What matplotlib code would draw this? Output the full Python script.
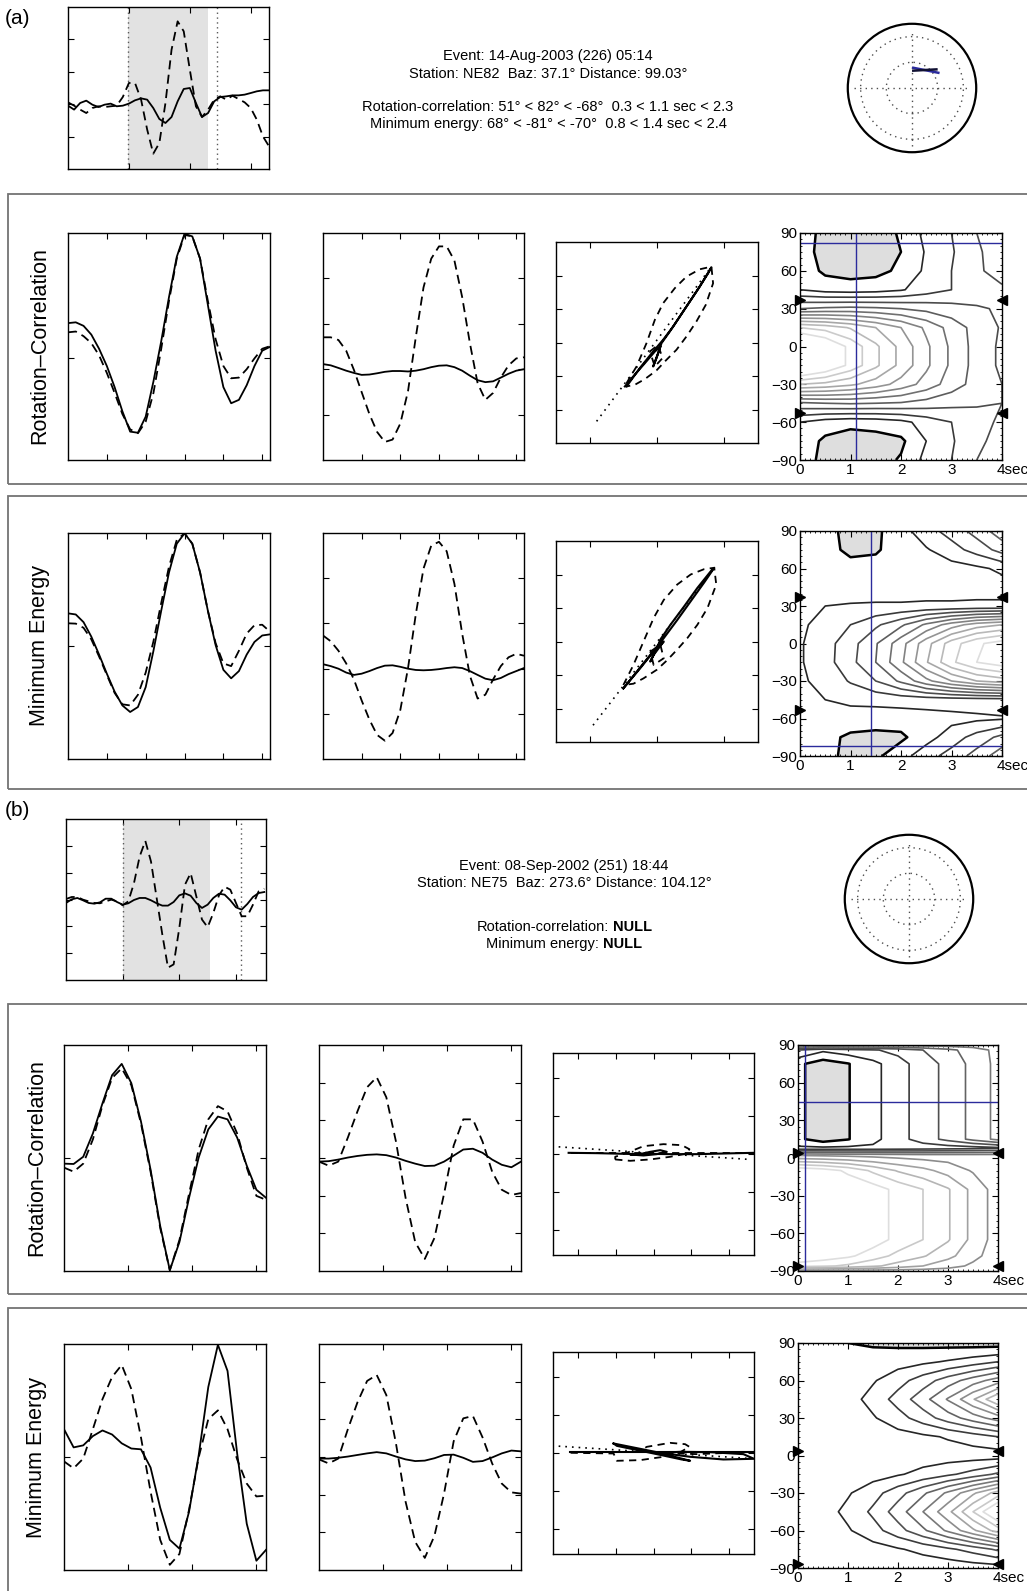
import numpy as np
import matplotlib
matplotlib.use("Agg")
import matplotlib.pyplot as plt
from matplotlib.patches import Rectangle, Circle
import matplotlib.transforms as mtransforms

plt.rcParams['font.family'] = ['Liberation Sans', 'DejaVu Sans']

# ---------------- data ----------------
# header lines
head_a = ["Event: 14-Aug-2003 (226) 05:14",
          "Station: NE82  Baz: 37.1\u00b0 Distance: 99.03\u00b0",
          "Rotation-correlation: 51\u00b0 < 82\u00b0 < -68\u00b0  0.3 < 1.1 sec < 2.3",
          "Minimum energy: 68\u00b0 < -81\u00b0 < -70\u00b0  0.8 < 1.4 sec < 2.4"]
head_b = ["Event: 08-Sep-2002 (251) 18:44",
          "Station: NE75  Baz: 273.6\u00b0 Distance: 104.12\u00b0"]
null_labels = ["Rotation-correlation:", "Minimum energy:"]
row_labels = ["Rotation\u2013Correlation", "Minimum Energy"]

# top traces (radial dashed, transverse solid)
inset_a_t = np.arange(0, 34)
inset_a_solid = [-0.218, -0.267, -0.185, -0.156, -0.206, -0.235, -0.206, -0.193, -0.226, -0.218,
                 -0.193, -0.152, -0.128, -0.144, -0.247, -0.383, -0.432, -0.358, -0.165, -0.012,
                 0.0, -0.185, -0.358, -0.309, -0.165, -0.111, -0.103, -0.091, -0.091, -0.082,
                 -0.062, -0.041, -0.029, -0.029]
inset_a_dash = [-0.177, -0.218, -0.267, -0.309, -0.247, -0.226, -0.235, -0.226, -0.218, -0.111,
                0.062, 0.062, -0.144, -0.514, -0.811, -0.679, -0.185, 0.473, 0.823, 0.700,
                0.226, -0.226, -0.358, -0.267, -0.144, -0.103, -0.144, -0.095, -0.136, -0.177,
                -0.247, -0.391, -0.597, -0.720]
inset_a_window = [9.8, 23.0]
inset_a_picks = [9.8, 24.4]

inset_b_t = np.arange(0, 36)
inset_b_solid = [-0.043, 0.002, 0.019, -0.010, -0.043, -0.052, -0.035, 0.010, 0.010, -0.031,
                 -0.064, -0.047, -0.006, 0.019, 0.019, -0.010, -0.047, -0.076, -0.076, -0.031,
                 0.052, 0.076, 0.047, -0.043, -0.105, -0.064, 0.019, 0.072, 0.060, -0.010,
                 -0.097, -0.126, -0.056, 0.031, 0.080, 0.093]
inset_b_dash = [0.006, 0.031, 0.031, -0.002, -0.023, -0.043, -0.047, -0.023, -0.002, -0.023,
                -0.072, -0.023, 0.204, 0.534, 0.728, 0.472, 0.019, -0.435, -0.847, -0.806,
                -0.353, 0.184, 0.328, 0.039, -0.249, -0.344, -0.167, 0.052, 0.159, 0.122,
                -0.043, -0.208, -0.208, -0.064, 0.101, 0.134]
inset_b_window = [10.0, 25.4]
inset_b_picks = [10.0, 30.8]

# corrected traces, event (a)
t_a = np.arange(0, 53, 2)
a_rc_fs_solid = [0.206, 0.213, 0.182, 0.105, -0.02, -0.172, -0.358, -0.571, -0.75, -0.76, -0.618,
                 -0.307, 0.047, 0.436, 0.79, 0.993, 0.97, 0.774, 0.368, -0.037, -0.358, -0.5,
                 -0.47, -0.341, -0.172, -0.037, -0.003]
a_rc_fs_dash = [0.125, 0.132, 0.091, 0.03, -0.078, -0.233, -0.409, -0.595, -0.73, -0.764, -0.662,
                -0.409, -0.02, 0.402, 0.774, 0.983, 0.97, 0.774, 0.402, 0.064, -0.172, -0.28,
                -0.274, -0.2, -0.105, -0.02, 0.003]
a_rc_rt_dash = [0.081, 0.081, 0.057, -0.037, -0.206, -0.402, -0.595, -0.753, -0.841, -0.82, -0.679,
                -0.392, 0.081, 0.52, 0.774, 0.882, 0.882, 0.757, 0.436, 0.03, -0.324, -0.47,
                -0.409, -0.274, -0.166, -0.105, -0.095]
a_rc_rt_solid = [-0.155, -0.166, -0.189, -0.213, -0.233, -0.25, -0.247, -0.236, -0.223, -0.216,
                 -0.216, -0.22, -0.213, -0.2, -0.182, -0.169, -0.166, -0.182, -0.213, -0.257,
                 -0.297, -0.314, -0.307, -0.274, -0.24, -0.213, -0.2]
a_me_fs_solid = [0.289, 0.279, 0.211, 0.083, -0.076, -0.245, -0.404, -0.526, -0.584, -0.54, -0.364,
                 -0.042, 0.313, 0.651, 0.905, 0.997, 0.905, 0.651, 0.313, 0.008, -0.211, -0.286,
                 -0.222, -0.076, 0.036, 0.093, 0.103]
a_me_fs_dash = [0.201, 0.198, 0.161, 0.059, -0.093, -0.256, -0.415, -0.516, -0.526, -0.432, -0.235,
                0.042, 0.381, 0.702, 0.939, 0.997, 0.905, 0.651, 0.313, 0.025, -0.154, -0.178,
                -0.042, 0.11, 0.184, 0.188, 0.127]
a_me_rt_dash = [0.093, 0.042, -0.042, -0.154, -0.296, -0.482, -0.651, -0.787, -0.838, -0.77, -0.567,
                -0.195, 0.279, 0.685, 0.888, 0.922, 0.838, 0.55, 0.11, -0.262, -0.465, -0.431,
                -0.296, -0.178, -0.1, -0.069, -0.086]
a_me_rt_solid = [-0.161, -0.178, -0.201, -0.235, -0.256, -0.245, -0.222, -0.195, -0.174, -0.171,
                 -0.184, -0.201, -0.212, -0.215, -0.212, -0.205, -0.195, -0.188, -0.195, -0.222,
                 -0.256, -0.289, -0.303, -0.283, -0.249, -0.222, -0.195]

# corrected traces, event (b)
t_b = np.arange(0, 32, 1.5)
b_rc_fs_solid = [-0.05, -0.053, 0.011, 0.217, 0.484, 0.733, 0.833, 0.662, 0.324, -0.103, -0.601,
                 -0.993, -0.744, -0.352, 0.004, 0.253, 0.367, 0.342, 0.181, -0.068, -0.281, -0.352]
b_rc_fs_dash = [-0.085, -0.121, -0.05, 0.164, 0.466, 0.708, 0.794, 0.644, 0.306, -0.121, -0.619,
                -0.993, -0.726, -0.317, 0.075, 0.342, 0.459, 0.413, 0.217, -0.085, -0.335, -0.37]
b_rc_rt_dash = [-0.032, -0.068, -0.032, 0.181, 0.413, 0.626, 0.715, 0.537, 0.146, -0.352, -0.744,
                -0.893, -0.708, -0.317, 0.11, 0.342, 0.342, 0.146, -0.121, -0.281, -0.327, -0.31]
b_rc_rt_solid = [-0.032, -0.028, -0.014, 0.004, 0.018, 0.028, 0.032, 0.025, 0.004, -0.025, -0.05,
                 -0.071, -0.068, -0.032, 0.021, 0.075, 0.082, 0.046, -0.014, -0.06, -0.082, -0.032]
b_me_fs_solid = [0.246, 0.085, 0.103, 0.185, 0.235, 0.199, 0.121, 0.075, 0.068, -0.093, -0.448,
                 -0.733, -0.811, -0.484, 0.014, 0.619, 0.993, 0.762, 0.032, -0.591, -0.918, -0.822]
b_me_fs_dash = [-0.039, -0.1, -0.014, 0.246, 0.512, 0.708, 0.815, 0.601, 0.174, -0.306, -0.733,
                -0.954, -0.858, -0.466, -0.004, 0.335, 0.413, 0.246, -0.021, -0.235, -0.349, -0.342]
b_me_rt_dash = [-0.021, -0.057, -0.014, 0.246, 0.484, 0.673, 0.726, 0.548, 0.121, -0.395, -0.751,
                -0.893, -0.698, -0.324, 0.139, 0.342, 0.363, 0.174, -0.057, -0.235, -0.313, -0.324]
b_me_rt_solid = [-0.014, -0.014, -0.007, 0.004, 0.018, 0.032, 0.043, 0.032, 0.004, -0.021, -0.036,
                 -0.032, -0.011, 0.018, 0.021, -0.007, -0.043, -0.036, -0.004, 0.032, 0.057, 0.05]

# particle motion (x, y) paths
pm_a_rc_line = ([-0.897, 0.808], [-1.177, 1.132])
pm_a_rc_solid = ([-0.452, -0.255, -0.057, 0.091, 0.240, 0.437, 0.635, 0.808, 0.759, 0.585, 0.388,
                  0.190, 0.067, 0.017, -0.057, -0.017, 0.052, -0.032, -0.180, -0.353, -0.477],
                 [-0.656, -0.382, -0.134, 0.040, 0.238, 0.536, 0.834, 1.123, 1.033, 0.760, 0.462,
                  0.164, -0.010, -0.159, -0.358, -0.258, -0.060, -0.134, -0.308, -0.507, -0.656])
pm_a_rc_dash = ([-0.452, -0.304, -0.156, -0.032, 0.091, 0.264, 0.437, 0.635, 0.808, 0.833, 0.724,
                 0.585, 0.437, 0.289, 0.141, -0.008, -0.180, -0.329, -0.452],
                [-0.606, -0.358, -0.010, 0.338, 0.586, 0.810, 0.983, 1.093, 1.132, 0.884, 0.561,
                 0.313, 0.089, -0.109, -0.258, -0.417, -0.546, -0.631, -0.656])
pm_a_rc_dash2 = ([-0.106, 0.017, 0.081, -0.032, -0.106], [-0.134, -0.035, -0.234, -0.358, -0.134])

pm_a_me_line = ([-0.95, 0.85], [-1.25, 1.10])
pm_a_me_solid = ([-0.5, -0.3, -0.1, 0.1, 0.3, 0.5, 0.7, 0.85, 0.8, 0.6, 0.4, 0.2, 0.05, 0.0, -0.1,
                  -0.05, 0.1, -0.05, -0.25, -0.5],
                 [-0.7, -0.45, -0.2, 0.05, 0.32, 0.6, 0.88, 1.1, 1.05, 0.8, 0.52, 0.25, 0.03, -0.1,
                  -0.3, -0.2, 0.0, -0.15, -0.4, -0.7])
pm_a_me_dash = ([-0.5, -0.35, -0.2, -0.05, 0.1, 0.3, 0.5, 0.7, 0.85, 0.88, 0.75, 0.6, 0.45, 0.3,
                 0.15, 0.0, -0.2, -0.35, -0.5],
                [-0.65, -0.35, 0.0, 0.35, 0.62, 0.85, 1.0, 1.08, 1.1, 0.85, 0.5, 0.25, 0.05, -0.12,
                 -0.28, -0.42, -0.55, -0.63, -0.65])
pm_a_me_dash2 = ([-0.1, 0.05, 0.1, -0.05, -0.1], [-0.15, -0.05, -0.25, -0.35, -0.15])

pm_b_rc_line = ([-2.517, 2.56], [0.189, -0.144])
pm_b_rc_solid = ([-2.252, -1.501, -0.795, -0.353, -0.089, 0.176, 0.353, 0.088, -0.265, -0.618,
                  -0.177, 0.441, 1.148, 1.854, 2.666],
                 [0.031, 0.022, 0.005, -0.004, 0.057, 0.101, 0.057, -0.004, -0.039, -0.013,
                  0.005, -0.004, -0.004, 0.013, 0.031])
pm_b_rc_dash = ([-1.016, -0.618, -0.089, 0.441, 0.883, 0.953, 0.75, 0.265, -0.265, -0.486, -0.707,
                 -1.016, -1.016],
                [-0.144, -0.18, -0.144, -0.074, 0.013, 0.127, 0.233, 0.26, 0.207, 0.119, 0.031,
                 -0.074, -0.144])
pm_b_rc_dash2 = ([-2.2, 2.666], [0.014, 0.014])

pm_b_me_line = ([-2.517, 2.56], [0.18, -0.144])
pm_b_me_solid = ([-2.225, 2.666], [0.022, 0.022])
pm_b_me_solid2 = ([-1.06, 0.088, 0.971, 0.75, 0.088, -0.972, -1.06],
                  [0.251, 0.022, -0.206, -0.171, -0.03, 0.189, 0.251])
pm_b_me_solid3 = ([0.176, 0.971, 1.854, 2.666, 2.384, 1.501, 0.706, 0.176],
                  [0.005, -0.1, -0.171, -0.153, -0.03, 0.022, 0.031, 0.005])
pm_b_me_dash = ([-2.2, -1.06, -0.972, -0.353, 0.265, 0.62, 0.953, 0.839, 0.441, -0.177, -0.353,
                 0.265, 1.148, 2.666],
                [0.005, -0.013, -0.206, -0.188, -0.1, -0.03, 0.163, 0.233, 0.268, 0.163, 0.06,
                 0.005, -0.03, 0.031])

# splitting-parameter grids (misfit levels), dt columns and phi rows
dt_grid = [0, 0.5, 1.0, 1.5, 2.0, 2.5, 3.0, 3.5, 4.0]
phi_a = [90, 75, 60, 45, 30, 15, 0, -15, -30, -45, -60, -75, -90]
grid_a_rc = [
    [1.5, 0.7, 0.5, 0.6, 1.1, 2.3, 3.0, 4.0, 5.0],
    [1.5, 0.6, 0.4, 0.5, 1.0, 2.1, 2.9, 3.8, 4.7],
    [1.6, 0.8, 0.6, 0.7, 1.2, 2.2, 3.0, 3.8, 4.5],
    [2.0, 1.6, 1.5, 1.6, 1.9, 2.5, 3.0, 3.5, 3.8],
    [5.0, 5.2, 5.3, 5.2, 5.0, 4.7, 4.4, 4.1, 3.9],
    [11.0, 10.6, 9.9, 9.0, 8.0, 6.8, 5.6, 4.6, 3.9],
    [14.5, 13.2, 11.7, 10.2, 8.7, 7.2, 5.8, 4.6, 3.8],
    [14.5, 13.2, 11.7, 10.2, 8.7, 7.2, 5.8, 4.6, 3.8],
    [10.0, 9.7, 9.2, 8.5, 7.6, 6.6, 5.5, 4.6, 4.0],
    [4.8, 5.0, 5.1, 5.0, 4.9, 4.6, 4.3, 4.1, 4.0],
    [2.0, 1.5, 1.3, 1.4, 1.7, 2.4, 3.0, 3.6, 4.2],
    [1.6, 0.8, 0.5, 0.6, 0.8, 2.0, 2.9, 3.7, 4.5],
    [1.5, 0.7, 0.5, 0.6, 1.1, 2.3, 3.0, 4.0, 5.0]]
grid_a_me = [
    [1.8, 1.3, 0.7, 0.8, 1.6, 2.6, 3.4, 4.4, 5.6],
    [1.8, 1.3, 0.8, 0.9, 1.4, 1.9, 2.6, 3.4, 4.4],
    [1.8, 1.5, 1.3, 1.3, 1.4, 1.5, 1.6, 1.8, 2.2],
    [1.8, 1.7, 1.7, 1.6, 1.6, 1.6, 1.6, 1.6, 1.6],
    [1.8, 2.0, 2.05, 2.1, 2.1, 2.15, 2.15, 2.2, 2.2],
    [1.85, 2.3, 3.0, 3.8, 4.8, 6.2, 7.5, 8.5, 9.0],
    [1.9, 2.6, 3.6, 4.9, 6.6, 8.6, 10.5, 11.8, 12.5],
    [1.9, 2.6, 3.7, 5.0, 6.8, 8.9, 10.8, 12.0, 12.6],
    [1.85, 2.3, 3.1, 4.0, 5.2, 6.7, 8.0, 9.0, 9.5],
    [1.8, 2.0, 2.2, 2.3, 2.4, 2.45, 2.5, 2.55, 2.6],
    [1.8, 1.7, 1.6, 1.5, 1.5, 1.6, 1.7, 1.8, 1.9],
    [1.8, 1.3, 0.8, 0.7, 0.8, 1.6, 2.5, 3.4, 4.3],
    [1.8, 1.3, 0.7, 0.8, 1.6, 2.6, 3.4, 4.4, 5.6]]
phi_b_rc = [90, 86, 75, 60, 45, 30, 15, 8, 2, -10, -25, -45, -65, -78, -86, -90]
grid_b_rc = [
    [6.5, 6.5, 6.5, 6.5, 6.5, 6.5, 6.5, 6.5, 6.5],
    [3.0, 2.2, 2.6, 2.9, 3.3, 4.0, 4.7, 5.5, 6.3],
    [1.2, 0.5, 0.95, 1.7, 2.6, 3.5, 4.3, 5.3, 6.3],
    [1.2, 0.5, 0.95, 1.7, 2.6, 3.5, 4.3, 5.3, 6.3],
    [1.2, 0.5, 0.95, 1.7, 2.6, 3.5, 4.3, 5.3, 6.3],
    [1.2, 0.5, 0.95, 1.7, 2.6, 3.5, 4.3, 5.3, 6.3],
    [1.2, 0.5, 0.95, 1.7, 2.6, 3.5, 4.3, 5.3, 6.3],
    [2.2, 2.17, 2.2, 2.2, 2.3, 2.4, 2.5, 2.6, 2.8],
    [7.0, 6.9, 6.8, 6.7, 6.6, 6.5, 6.5, 6.5, 6.5],
    [11.9, 11.5, 10.8, 9.8, 8.9, 8.3, 7.6, 6.9, 6.4],
    [11.9, 11.85, 11.75, 11.5, 10.7, 10.0, 9.1, 7.7, 6.5],
    [11.9, 11.85, 11.75, 11.5, 10.7, 10.0, 9.1, 7.7, 6.5],
    [11.9, 11.85, 11.75, 11.5, 10.7, 10.0, 9.1, 7.7, 6.5],
    [11.9, 11.6, 11.2, 10.5, 9.7, 9.1, 8.3, 7.3, 6.45],
    [10.5, 10.2, 9.8, 9.2, 8.6, 8.0, 7.4, 6.8, 6.4],
    [6.5, 6.5, 6.5, 6.5, 6.5, 6.5, 6.5, 6.5, 6.5]]
phi_b_me = [90, 84, 75, 60, 45, 30, 15, 0, -15, -30, -45, -60, -75, -84, -90]
grid_b_me = [
    [1.5, 1.5, 1.0, 0.6, 0.6, 0.6, 0.6, 0.6, 0.6],
    [1.5, 1.5, 1.4, 1.3, 1.2, 1.2, 1.25, 1.3, 1.4],
    [1.5, 1.5, 1.5, 1.5, 1.6, 1.8, 2.1, 2.5, 3.0],
    [1.5, 1.5, 1.5, 1.9, 2.6, 3.5, 4.5, 5.5, 6.5],
    [1.5, 1.5, 1.6, 2.35, 3.4, 4.6, 6.1, 7.9, 10.0],
    [1.5, 1.5, 1.5, 1.9, 2.6, 3.5, 4.5, 5.5, 6.5],
    [1.5, 1.5, 1.5, 1.5, 1.6, 1.8, 2.1, 2.5, 3.0],
    [1.5, 1.5, 1.5, 1.5, 1.5, 1.5, 1.5, 1.5, 1.5],
    [1.5, 1.5, 1.5, 1.6, 1.9, 2.3, 2.8, 3.4, 4.2],
    [1.5, 1.55, 1.9, 2.6, 3.6, 4.8, 6.2, 7.8, 9.5],
    [1.5, 1.6, 2.25, 3.2, 4.5, 6.0, 7.7, 10.0, 12.5],
    [1.5, 1.55, 1.9, 2.6, 3.6, 4.8, 6.2, 7.8, 9.5],
    [1.5, 1.5, 1.5, 1.6, 1.9, 2.3, 2.8, 3.4, 4.2],
    [1.5, 1.5, 1.5, 1.5, 1.6, 1.7, 1.9, 2.2, 2.6],
    [1.5, 1.5, 1.5, 1.5, 1.5, 1.5, 1.5, 1.5, 1.5]]

# best (phi, dt) and backazimuth markers
best_a_rc = (1.1, 82)
best_a_me = (1.4, -82)
best_b_rc = (0.13, 45)
baz_marks_a = [37.1, -52.9]
baz_marks_b = [3.6, -86.4]

# station plot bar (a)
polar_a_bars = [([0.02, 0.41], [0.315, 0.237]), ([0.02, 0.38], [0.27, 0.29])]

# ---------------- figure ----------------
W, H = 1027, 1591
fig = plt.figure(figsize=(W / 100, H / 100), dpi=100)
blue = '#2b2b9c'


def px_axes(l, t, r, b):
    return fig.add_axes([l / W, 1 - b / H, (r - l) / W, (b - t) / H])


def frame(t, b, l=8, r=1034):
    fig.patches.append(Rectangle((l / W, 1 - b / H), (r - l) / W, (b - t) / H,
                                 transform=fig.transFigure, fill=False,
                                 ec='0.45', lw=1.3))


def boxed(ax, xticks, yticks):
    ax.set_xticks(xticks)
    ax.set_yticks(yticks)
    ax.tick_params(direction='in', length=4, width=0.8, top=True, right=True,
                   labelbottom=False, labelleft=False)
    for s in ax.spines.values():
        s.set_linewidth(1.0)


def traces(ax, t, solid, dash, xlim, xticks, yticks):
    ax.plot(t, solid, color='k', lw=1.3)
    ax.plot(t, dash, color='k', lw=1.3, dashes=(5, 3))
    ax.set_xlim(*xlim)
    ax.set_ylim(-1, 1)
    boxed(ax, xticks, yticks)


def inset(ax, t, solid, dash, window, picks, xmax, yticks):
    ax.axvspan(window[0], window[1], color='#e2e2e2', lw=0)
    for p in picks:
        ax.axvline(p, color='0.35', lw=1.0, ls=(0, (1, 2.5)))
    ax.plot(t, solid, color='k', lw=1.3)
    ax.plot(t, dash, color='k', lw=1.3, dashes=(5, 3))
    ax.set_xlim(0, xmax)
    ax.set_ylim(-1, 1)
    boxed(ax, [10, 20, 30], yticks)


def particle(ax, line, solids, dashes, lim, xticks, yticks):
    ax.plot(line[0], line[1], color='k', lw=1.2, ls=(0, (1, 3)))
    for d in dashes:
        ax.plot(d[0], d[1], color='k', lw=1.3, dashes=(4, 3))
    for s in solids:
        ax.plot(s[0], s[1], color='k', lw=1.5)
    ax.set_xlim(-lim, lim)
    ax.set_ylim(-lim, lim)
    boxed(ax, xticks, yticks)


def grid_map(ax, phi, grid, nlev, best=None, marks=()):
    phi = np.array(phi)[::-1]
    Z = np.array(grid)[::-1]
    ax.contourf(dt_grid, phi, Z, levels=[-100, 1], colors=['#dedede'])
    levels = list(range(1, nlev + 1))
    cols = ['k'] + [str(round(0.15 + 0.72 * (k - 2) / (nlev - 2), 3)) for k in levels[1:]]
    lws = [1.8] + [1.2] * (nlev - 1)
    ax.contour(dt_grid, phi, Z, levels=levels, colors=cols, linewidths=lws)
    if best is not None:
        ax.axvline(best[0], color=blue, lw=1.0)
        ax.axhline(best[1], color=blue, lw=1.0)
    for m in marks:
        ax.plot([0], [m], marker='>', color='k', ms=7, clip_on=False, zorder=5)
        ax.plot([4], [m], marker='<', color='k', ms=7, clip_on=False, zorder=5)
    ax.set_xlim(0, 4)
    ax.set_ylim(-90, 90)
    ax.set_xticks([0, 1, 2, 3, 4])
    ax.set_xticklabels(['0', '1', '2', '3', '4sec'])
    ax.set_yticks([-90, -60, -30, 0, 30, 60, 90])
    ax.set_xticks(np.arange(0, 4.01, 0.1), minor=True)
    ax.set_yticks(np.arange(-90, 91, 5), minor=True)
    ax.tick_params(which='major', direction='in', length=4, width=0.8, top=True, right=True,
                   labelsize=11, pad=2)
    ax.tick_params(which='minor', direction='in', length=1.5, width=0.6, top=True, right=True)
    lab = ax.get_xticklabels()[-1]
    lab.set_horizontalalignment('left')
    lab.set_transform(lab.get_transform() +
                      mtransforms.ScaledTranslation(-4 / 72, 0, fig.dpi_scale_trans))
    for s in ax.spines.values():
        s.set_linewidth(1.0)


def station(ax, bars=()):
    ax.add_patch(Circle((0, 0), 1.0, fill=False, lw=1.6, ec='k'))
    for r in (0.8, 0.4):
        ax.add_patch(Circle((0, 0), r, fill=False, lw=1.0, ec='0.3', ls=(0, (1, 3))))
    ax.plot([-0.9, 0.9], [0, 0], color='0.3', lw=1.0, ls=(0, (1, 3)))
    ax.plot([0, 0], [-0.9, 0.9], color='0.3', lw=1.0, ls=(0, (1, 3)))
    for i, (bx, by) in enumerate(bars):
        ax.plot(bx, by, color=blue if i == 0 else '#111133', lw=1.8)
    ax.set_xlim(-1.09, 1.09)
    ax.set_ylim(-1.09, 1.09)
    ax.set_aspect('equal')
    ax.axis('off')


def header(lines, xc, ys, size=10.5):
    for txt, y in zip(lines, ys):
        fig.text(xc / W, 1 - y / H, txt, ha='center', va='baseline', fontsize=size)


def null_line(label, xc, y, size=10.5):
    r = fig.canvas.get_renderer()
    t1 = fig.text(0, 1 - y / H, label, ha='left', va='baseline', fontsize=size)
    t2 = fig.text(0, 1 - y / H, 'NULL', ha='left', va='baseline', fontsize=size,
                  fontweight='bold')
    w1 = t1.get_window_extent(r).width
    w2 = t2.get_window_extent(r).width
    gap = 4
    x0 = xc - (w1 + gap + w2) / 2
    t1.set_x(x0 / W)
    t2.set_x((x0 + w1 + gap) / W)


# ---- event (a) ----
fig.text(5 / W, 1 - 19 / H, '(a)', fontsize=15, va='center', ha='left')
ax = px_axes(68, 7, 269, 169)
inset(ax, inset_a_t, inset_a_solid, inset_a_dash, inset_a_window, inset_a_picks, 33,
      [-0.6, -0.2, 0.2, 0.6])
header(head_a[:2], 548, [60, 78])
header(head_a[2:], 548, [111, 128])
station(px_axes(842, 18, 982, 158), polar_a_bars)

frame(194, 484)
frame(496, 789)
for top, rl in [(233, row_labels[0]), (533, row_labels[1])]:
    fig.text(40 / W, 1 - (top + 113) / H, rl, rotation=90, fontsize=15.5,
             ha='center', va='center')

ax = px_axes(68, 233, 270, 460)
traces(ax, t_a, a_rc_fs_solid, a_rc_fs_dash, (0, 52), [10, 20, 30, 40, 50], [-0.1])
ax = px_axes(323, 233, 524, 460)
traces(ax, t_a, a_rc_rt_solid, a_rc_rt_dash, (0, 52), [10, 20, 30, 40, 50],
       [-0.6, -0.2, 0.2, 0.6])
ax = px_axes(556, 242, 758, 443)
particle(ax, pm_a_rc_line, [pm_a_rc_solid], [pm_a_rc_dash, pm_a_rc_dash2], 1.5,
         [-1, 0, 1], [-1, -0.5, 0, 0.5, 1])
ax = px_axes(800, 233, 1002, 460)
grid_map(ax, phi_a, grid_a_rc, 12, best_a_rc, baz_marks_a)

ax = px_axes(68, 533, 270, 759)
traces(ax, t_a, a_me_fs_solid, a_me_fs_dash, (0, 52), [10, 20, 30, 40, 50], [0])
ax = px_axes(323, 533, 524, 759)
traces(ax, t_a, a_me_rt_solid, a_me_rt_dash, (0, 52), [10, 20, 30, 40, 50],
       [-0.6, -0.2, 0.2, 0.6])
ax = px_axes(556, 541, 758, 742)
particle(ax, pm_a_me_line, [pm_a_me_solid], [pm_a_me_dash, pm_a_me_dash2], 1.5,
         [-1, 0, 1], [-1, -0.5, 0, 0.5, 1])
ax = px_axes(800, 531, 1002, 756)
grid_map(ax, phi_a, grid_a_me, 12, best_a_me, baz_marks_a)

# ---- event (b) ----
fig.text(5 / W, 1 - 811 / H, '(b)', fontsize=15, va='center', ha='left')
ax = px_axes(66, 819, 266, 980)
inset(ax, inset_b_t, inset_b_solid, inset_b_dash, inset_b_window, inset_b_picks, 35.3,
      [-2 / 3, -1 / 3, 0, 1 / 3, 2 / 3])
header(head_b, 564, [870, 887])
null_line(null_labels[0], 564, 931)
null_line(null_labels[1], 564, 948)
station(px_axes(839, 829, 979, 969))

frame(1004, 1294)
frame(1308, 1594)
for top, rl in [(1045, row_labels[0]), (1344, row_labels[1])]:
    fig.text(37 / W, 1 - (top + 113) / H, rl, rotation=90, fontsize=15.5,
             ha='center', va='center')

ax = px_axes(64, 1045, 266, 1271)
traces(ax, t_b, b_rc_fs_solid, b_rc_fs_dash, (0, 31.5), [10, 20, 30], [0])
ax = px_axes(319, 1045, 521, 1271)
traces(ax, t_b, b_rc_rt_solid, b_rc_rt_dash, (0, 31.5), [10, 20, 30],
       [-2 / 3, -1 / 3, 0, 1 / 3, 2 / 3])
ax = px_axes(553, 1053, 754, 1255)
particle(ax, pm_b_rc_line, [pm_b_rc_solid], [pm_b_rc_dash, pm_b_rc_dash2], 8 / 3,
         [-2, -1, 0, 1, 2], [-2, -1, 0, 1, 2])
ax = px_axes(798, 1045, 998, 1271)
grid_map(ax, phi_b_rc, grid_b_rc, 11, best_b_rc, baz_marks_b)

ax = px_axes(64, 1344, 266, 1570)
traces(ax, t_b, b_me_fs_solid, b_me_fs_dash, (0, 31.5), [10, 20, 30], [0])
ax = px_axes(319, 1344, 521, 1570)
traces(ax, t_b, b_me_rt_solid, b_me_rt_dash, (0, 31.5), [10, 20, 30],
       [-2 / 3, -1 / 3, 0, 1 / 3, 2 / 3])
ax = px_axes(553, 1352, 754, 1554)
particle(ax, pm_b_me_line, [pm_b_me_solid, pm_b_me_solid2, pm_b_me_solid3], [pm_b_me_dash],
         8 / 3, [-2, -1, 0, 1, 2], [-2, -1, 0, 1, 2])
ax = px_axes(798, 1343, 998, 1568)
grid_map(ax, phi_b_me, grid_b_me, 11, None, baz_marks_b)

fig.savefig('out.png', dpi=100)
